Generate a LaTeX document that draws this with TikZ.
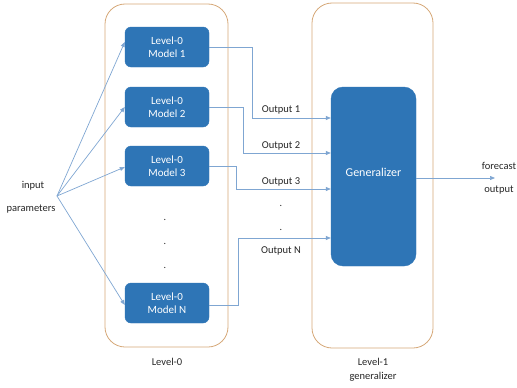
\documentclass[tikz,border=0pt]{standalone}
\usepackage{fontspec}
\setmainfont{Carlito}
\usetikzlibrary{arrows.meta}
\definecolor{boxblue}{HTML}{2E75B6}
\definecolor{lineblue}{HTML}{7FA6D2}
\definecolor{frametan}{HTML}{D6A878}
\definecolor{txt}{HTML}{262626}
\begin{document}
\begin{tikzpicture}[x=1pt,y=-1pt,
  frame/.style={draw=frametan,line width=0.8pt,rounded corners=20pt,fill=white},
  model/.style={fill=boxblue,draw=boxblue,rounded corners=6pt,minimum width=84pt,minimum height=40pt,
     text=white,font=\fontsize{11}{12.5}\selectfont,align=center,inner sep=0pt},
  conn/.style={draw=lineblue,line width=0.7pt},
  arr/.style={conn,-{Triangle[length=5pt,width=4pt]}},
  lbl/.style={text=txt,font=\fontsize{10.5}{12}\selectfont,inner sep=0pt},
  dot/.style={text=txt,font=\fontsize{10}{12}\selectfont,inner sep=0pt}]
\useasboundingbox (0,0) rectangle (517,388);
% containers
\draw[frame] (105,4) rectangle (228,347);
\draw[frame] (312,3) rectangle (433,348);
% level-0 models
\node[model] (m1) at (167,47) {Level-0\\Model 1};
\node[model] (m2) at (167,107) {Level-0\\Model 2};
\node[model] (m3) at (167,166) {Level-0\\Model 3};
\node[model] (mn) at (167,303) {Level-0\\Model N};
\node[dot] (d1) at (165,220) {.};
\node[dot] (d2) at (165,244) {.};
\node[dot] (d3) at (165,268) {.};
% generalizer
\node[fill=boxblue,draw=boxblue,rounded corners=12pt,minimum width=85pt,minimum height=179pt,inner sep=0pt] (g) at (373.5,176.5) {};
\node[text=white,font=\fontsize{12}{14}\selectfont,inner sep=0pt] (gt) at (373.5,172) {Generalizer};
% labels
\node[lbl] (l0) at (167,362) {Level-0};
\node[lbl,align=center,font=\fontsize{10.5}{14}\selectfont] (l1) at (373,370) {Level-1\\generalizer};
\node[lbl] (in1) at (33,186) {input};
\node[lbl] (in2) at (31,209) {parameters};
\coordinate (src) at (57,196);
\draw[arr] (src) -- (m1.west |- 0,42);
\draw[arr] (src) -- (m2.west |- 0,107);
\draw[arr] (src) -- (m3.west |- 0,167);
\draw[arr] (src) -- (mn.west |- 0,305);
% outputs
\draw[arr] (m1.east |- 0,47) -- (252,47) -- (252,118) -- (g.west |- 0,118);
\draw[arr] (m2.east |- 0,107) -- (243,107) -- (243,153) -- (g.west |- 0,153);
\draw[arr] (m3.east |- 0,166) -- (236,166) -- (236,189) -- (g.west |- 0,189);
\draw[arr] (mn.east |- 0,305) -- (238,305) -- (238,238) -- (g.west |- 0,238);
\node[lbl] (o1) at (281,110) {Output 1};
\node[lbl] (o2) at (281,146) {Output 2};
\node[lbl] (o3) at (281,182) {Output 3};
\node[lbl] (on) at (281,251) {Output N};
\node[dot] (e1) at (281,206) {.};
\node[dot] (e2) at (281,230) {.};
% forecast
\coordinate (fo) at (495,178);
\draw[arr] (g.east |- 0,178) -- (fo);
\node[lbl] (f1) at (499,166) {forecast};
\node[lbl] (f2) at (499,190) {output};
\end{tikzpicture}
\end{document}
